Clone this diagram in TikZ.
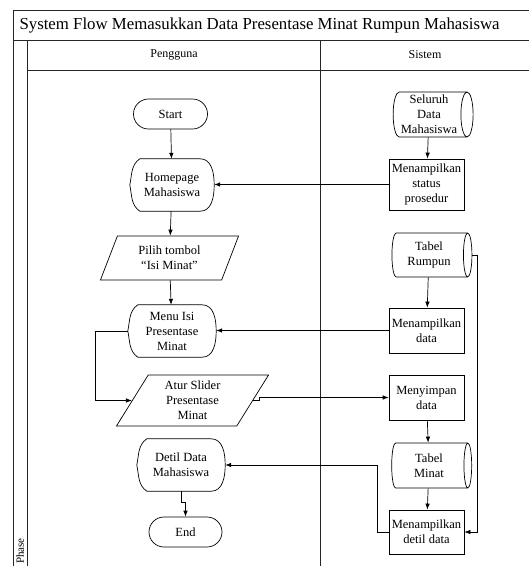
\documentclass[tikz,border=0pt]{standalone}
\usepackage{fontspec}
\setmainfont{Liberation Serif}
\usetikzlibrary{positioning, calc, shapes.geometric, shapes.misc, arrows.meta}

\begin{document}
\begin{tikzpicture}[
    x=1pt, y=1pt,
    lane/.style={draw=black!85, line width=0.8pt},
    terminal/.style={
        rounded rectangle, draw=black, line width=0.7pt,
        minimum width=76pt, minimum height=30pt, inner sep=1pt,
        align=center, font=\fontsize{12.5}{15}\selectfont
    },
    process/.style={
        rectangle, draw=black, line width=0.7pt,
        minimum width=75pt, minimum height=45pt, inner sep=1pt,
        align=center, font=\fontsize{12.5}{15}\selectfont
    },
    datastore/.style={
        cylinder, draw=black, line width=0.7pt, shape aspect=0.3,
        minimum height=80pt, minimum width=45pt, inner sep=1pt,
        align=center, font=\fontsize{12.5}{15}\selectfont
    },
    io/.style={
        trapezium, trapezium left angle=#1, trapezium right angle=180-#1,
        trapezium stretches=true, draw=black, line width=0.7pt,
        inner sep=1pt, align=center, font=\fontsize{12.5}{15}\selectfont
    },
    display/.style={
        minimum width=#1, minimum height=52pt, inner sep=1pt,
        align=center, font=\fontsize{12.5}{15}\selectfont,
        append after command={\pgfextra{
            \draw[line width=0.7pt] ($(\tikzlastnode.north west)+(10,0)$)
                to[out=215,in=78] (\tikzlastnode.west)
                to[out=-78,in=145] ($(\tikzlastnode.south west)+(10,0)$)
                -- ($(\tikzlastnode.south east)+(-14,0)$)
                to[out=0,in=-90] (\tikzlastnode.east)
                to[out=90,in=0] ($(\tikzlastnode.north east)+(-14,0)$)
                -- cycle;}}
    },
    flow/.style={-{Latex[length=6pt,width=4.5pt]}, line width=0.7pt}
]

\useasboundingbox (0,0) rectangle (529,-566);
\clip (0,0) rectangle (529,-566);

% Swimlane frame
\draw[lane] (540,-10) -- (13,-10) -- (13,-580);
\draw[lane] (13,-40) -- (540,-40);
\draw[lane] (27,-40) -- (27,-580);
\draw[lane] (27,-70) -- (540,-70);
\draw[lane] (320,-40) -- (320,-580);

\node[anchor=west, font=\fontsize{16.8}{20}\selectfont] (title) at (16,-25)
    {System Flow Memasukkan Data Presentase Minat Rumpun Mahasiswa};
\node[font=\fontsize{12}{14}\selectfont] (pengguna) at (174,-55) {Pengguna};
\node[font=\fontsize{12}{14}\selectfont] (sistem) at (425,-55) {Sistem};
\node[rotate=90, anchor=west, inner sep=0pt, font=\fontsize{11}{13}\selectfont] (phase) at (20,-564) {Phase};

% Pengguna lane
\node[terminal] (start) at (170.5,-114) {Start};
\node[display=84pt] (home) at (172,-185) {Homepage\\Mahasiswa};
\node[io=68, minimum width=139pt, minimum height=44pt] (pilih) at (169.5,-258) {Pilih tombol\\“Isi Minat”};
\node[display=88pt] (menu) at (172,-331) {Menu Isi\\Presentase\\Minat};
\node[io=63, minimum width=153pt, minimum height=51pt] (atur) at (192.5,-400.5) {Atur Slider\\Presentase\\Minat};
\node[display=88pt] (detil) at (181,-465) {Detil Data\\Mahasiswa};
\node[terminal, minimum width=75pt] (end) at (185.5,-532) {End};

% Sistem lane
\node[datastore] (seluruh) at (429,-114.5) {Seluruh\\Data\\Mahasiswa};
\node[process, minimum height=51pt] (mstatus) at (426.5,-184.5) {Menampilkan\\status\\prosedur};
\node[datastore, minimum width=44pt] (trumpun) at (429,-255) {Tabel\\Rumpun};
\node[process] (mdata) at (426.5,-330.5) {Menampilkan\\data};
\node[process] (menyimpan) at (426.5,-397.5) {Menyimpan\\data};
\node[datastore] (tminat) at (429,-465.5) {Tabel\\Minat};
\node[process, minimum height=44pt] (mdetil) at (426.5,-532) {Menampilkan\\detil data};

% Flows
\draw[flow] (start) -- (home);
\draw[flow] (home) -- (pilih);
\draw[flow] (pilih) -- (menu);
\draw[flow] (seluruh) -- (mstatus);
\draw[flow] (mstatus.west) -- (mstatus.west -| home.east);
\draw[flow] (trumpun) -- (mdata);
\draw[flow] (mdata.west) -- (mdata.west -| menu.east);
\draw[flow] (menu.west) -- ++(-32,0) |- (atur.west);
\draw[flow] (atur.east) -- ++(6,0) |- (menyimpan.west);
\draw[flow] (menyimpan) -- (tminat);
\draw[flow] (tminat) -- (mdetil);
\draw[flow] (trumpun.east) -- ++(5,0) |- (mdetil.east);
\draw[flow] (mdetil.west) -- ++(-11,0) |- (detil.east);
\draw[flow] (detil.south) -- ++(0,-11) -| (end.north);

\end{tikzpicture}
\end{document}
